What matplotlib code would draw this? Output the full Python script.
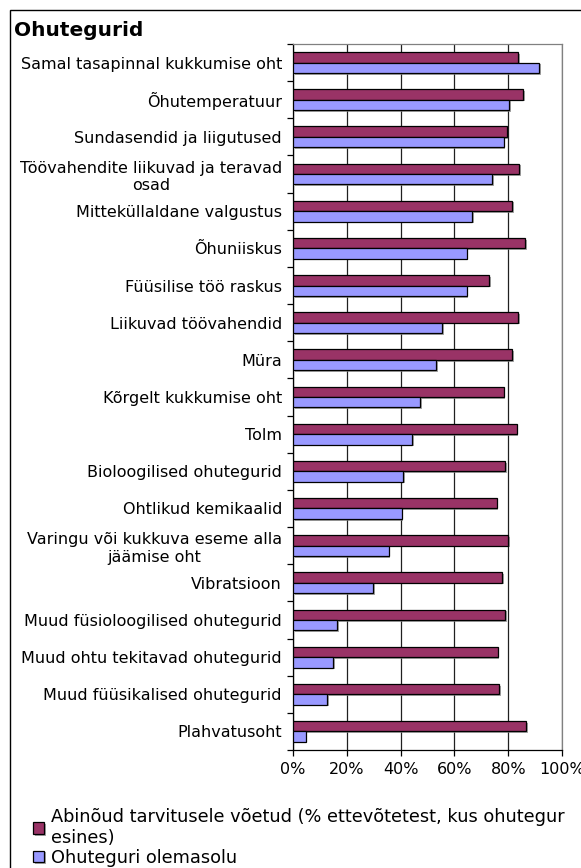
import numpy as np
import matplotlib
matplotlib.use("Agg")
import matplotlib.pyplot as plt
import matplotlib.patheffects as pe
from matplotlib.patches import Rectangle
from matplotlib.ticker import FuncFormatter

# Data
categories = [
    "Samal tasapinnal kukkumise oht",
    "Õhutemperatuur",
    "Sundasendid ja liigutused",
    "Töövahendite liikuvad ja teravad\nosad",
    "Mitteküllaldane valgustus",
    "Õhuniiskus",
    "Füüsilise töö raskus",
    "Liikuvad töövahendid",
    "Müra",
    "Kõrgelt kukkumise oht",
    "Tolm",
    "Bioloogilised ohutegurid",
    "Ohtlikud kemikaalid",
    "Varingu või kukkuva eseme alla\njäämise oht",
    "Vibratsioon",
    "Muud füsioloogilised ohutegurid",
    "Muud ohtu tekitavad ohutegurid",
    "Muud füüsikalised ohutegurid",
    "Plahvatusoht",
]
measures_taken = [83.6, 85.6, 79.4, 84.1, 81.5, 86.4, 73.0, 83.6, 81.5, 78.3,
                  83.1, 78.8, 75.7, 79.9, 77.7, 78.8, 76.1, 76.6, 86.7]
hazard_present = [91.6, 80.4, 78.3, 74.1, 66.5, 64.5, 64.5, 55.5, 53.2, 47.3,
                  44.3, 40.9, 40.4, 35.6, 29.8, 16.4, 14.9, 12.8, 4.7]
label_measures = "Abinõud tarvitusele võetud (% ettevõtetest, kus ohutegur\nesines)"
label_present = "Ohuteguri olemasolu"
x_ticks = [0, 20, 40, 60, 80, 100]

red = "#993366"
blue = "#9999FF"
fs = 11.5
fs_leg = 12.8

W, H = 581, 868
fig = plt.figure(figsize=(W / 100, H / 100), dpi=100)
ax = fig.add_axes([293 / W, 1 - 750 / H, 269 / W, 706 / H])

y = np.arange(len(categories))
h = 0.28
shadow = [pe.SimplePatchShadow(offset=(1.2, -1.2), shadow_rgbFace="#808080", alpha=0.7), pe.Normal()]
b1 = ax.barh(y - h / 2, measures_taken, height=h, color=red, edgecolor="black",
             linewidth=0.9, label=label_measures, zorder=3)
b2 = ax.barh(y + h / 2, hazard_present, height=h, color=blue, edgecolor="black",
             linewidth=0.9, label=label_present, zorder=3)
for bar in list(b1) + list(b2):
    bar.set_path_effects(shadow)

ax.set_xlim(0, 100)
ax.set_ylim(len(categories) - 0.5, -0.5)
ax.set_xticks(x_ticks)
ax.xaxis.set_major_formatter(FuncFormatter(lambda v, p: f"{v:.0f}%"))
ax.grid(axis="x", color="#202020", linewidth=0.9, zorder=0)

# category boundaries get the tick marks, centres get the labels
ax.set_yticks(np.arange(len(categories) + 1) - 0.5)
ax.set_yticklabels([])
ax.set_yticks(y, minor=True)
ax.set_yticklabels(categories, minor=True, fontsize=fs, multialignment="center")
ax.tick_params(axis="y", which="major", length=4, direction="out", width=0.9)
ax.tick_params(axis="y", which="minor", length=0, pad=8)
ax.tick_params(axis="x", length=4, direction="out", width=0.9, labelsize=fs, pad=5)

for s in ["top", "right"]:
    ax.spines[s].set_color("#808080")
    ax.spines[s].set_linewidth(0.9)
for s in ["left", "bottom"]:
    ax.spines[s].set_color("black")
    ax.spines[s].set_linewidth(0.9)

# outer chart-area border
fig.patches.append(Rectangle((10 / W, -0.1), 1.2, 1 - 10 / H + 0.1, transform=fig.transFigure,
                             fill=False, edgecolor="black", linewidth=1.0))

fig.text(14 / W, 1 - 30 / H, "Ohutegurid", fontsize=14.5, fontweight="bold", va="center", ha="left")

fig.legend(handles=[b1, b2], loc="upper left", bbox_to_anchor=(33 / W, 1 - 808 / H),
           frameon=False, fontsize=fs_leg, handlelength=0.62, handleheight=0.62,
           handletextpad=0.4, labelspacing=0.1, borderaxespad=0, borderpad=0)

fig.savefig("out.png", dpi=100)
